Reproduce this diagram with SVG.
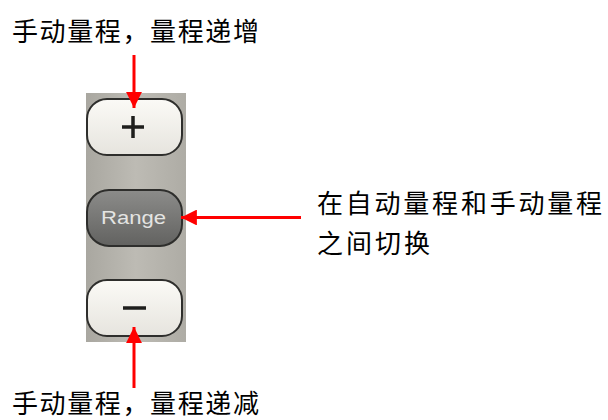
<svg xmlns="http://www.w3.org/2000/svg" width="608" height="420" viewBox="0 0 608 420">
<style>
.lbl{font-family:"Noto Sans CJK SC","Noto Sans",sans-serif;font-size:26px;fill:#000}
.btn{stroke:#2e2e2c;stroke-width:2}
.arr{stroke:#ff0000;stroke-width:3;fill:none}
</style>
<defs>
<linearGradient id="panel" x1="0" y1="0" x2="1" y2="0">
<stop offset="0" stop-color="#a9a7a0"/>
<stop offset="0.5" stop-color="#bdbbb4"/>
<stop offset="1" stop-color="#aeaca5"/>
</linearGradient>
<linearGradient id="light" x1="0" y1="0" x2="0" y2="1">
<stop offset="0" stop-color="#fbfaf6"/>
<stop offset="1" stop-color="#e6e4de"/>
</linearGradient>
<linearGradient id="dark" x1="0" y1="0" x2="0" y2="1">
<stop offset="0" stop-color="#8c8c8a"/>
<stop offset="1" stop-color="#626260"/>
</linearGradient>
<marker id="ah" viewBox="0 0 10 10" refX="10" refY="5" markerWidth="5.3" markerHeight="5.3" markerUnits="strokeWidth" orient="auto">
<path d="M0,0 L10,5 L0,10 Z" fill="#ff0000"/>
</marker>
</defs>
<g id="panel-bg">
<rect x="86" y="93" width="100" height="249" fill="url(#panel)"/>
</g>
<g id="btn-plus">
<rect class="btn" x="87" y="99" width="95" height="56" rx="20" fill="url(#light)"/>
<path d="M122,127 H144 M133,116 V138" stroke="#1e1e1c" stroke-width="3.5"/>
</g>
<g id="btn-range">
<rect class="btn" x="87" y="190" width="95" height="56" rx="22" fill="url(#dark)"/>
<text x="101" y="223.5" font-family="Liberation Sans, Arial, sans-serif" font-size="18" fill="#e4e4e2" textLength="65" lengthAdjust="spacingAndGlyphs">Range</text>
</g>
<g id="btn-minus">
<rect class="btn" x="87" y="280" width="95" height="56" rx="20" fill="url(#light)"/>
<path d="M123,308 H146" stroke="#1e1e1c" stroke-width="3.5"/>
</g>
<g id="connectors">
<line class="arr" x1="134" y1="55" x2="134" y2="108" marker-end="url(#ah)"/>
<line class="arr" x1="301" y1="217.5" x2="181" y2="217.5" marker-end="url(#ah)"/>
<line class="arr" x1="134" y1="388" x2="134" y2="327" marker-end="url(#ah)"/>
</g>
<g id="label-up">
<text class="lbl" x="12" y="41" textLength="247" lengthAdjust="spacing">手动量程，量程递增</text>
</g>
<g id="label-range">
<text class="lbl" x="317" y="213" textLength="285" lengthAdjust="spacing">在自动量程和手动量程</text>
<text class="lbl" x="317" y="253" textLength="113" lengthAdjust="spacing">之间切换</text>
</g>
<g id="label-down">
<text class="lbl" x="12" y="413" textLength="247" lengthAdjust="spacing">手动量程，量程递减</text>
</g>
</svg>
